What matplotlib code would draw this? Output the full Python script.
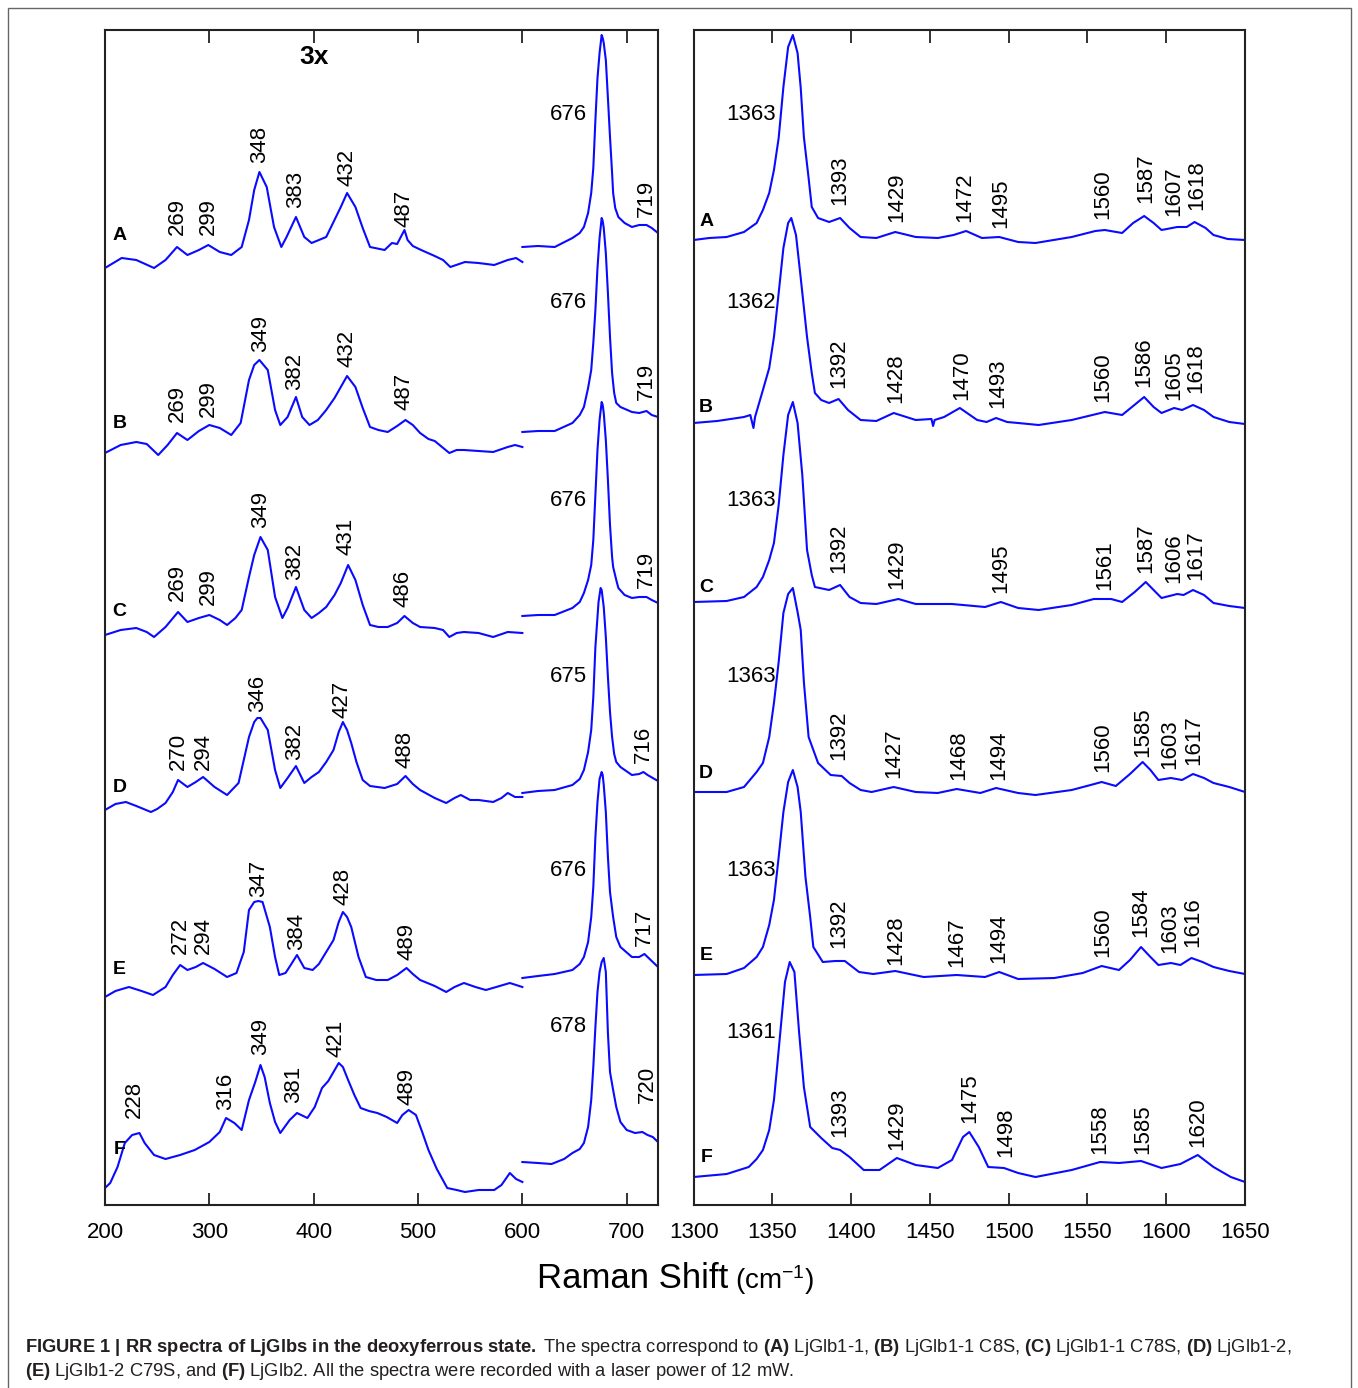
import matplotlib
matplotlib.use("Agg")
import matplotlib.pyplot as plt
from matplotlib.patches import Rectangle

# ─── CONFIG ────────────────────────────────────────────────────────────────
W, H = 1358, 1388
BLUE = "#0a0aff"
plt.rcParams['font.family'] = ['Liberation Sans', 'DejaVu Sans']
plt.rcParams['mathtext.fontset'] = 'custom'
plt.rcParams['mathtext.rm'] = 'Liberation Sans'
plt.rcParams['mathtext.bf'] = 'Liberation Sans:bold'
plt.rcParams['mathtext.it'] = 'Liberation Sans:italic'
# ────────────────────────────────────────────────────────────────────────────

LETTERS = ['A', 'B', 'C', 'D', 'E', 'F']
OFFSETS = [937, 752, 570, 393, 208, 18]   # baseline of each stacked trace

# spectra as (wavenumber, intensity above trace baseline)
# 200-600 region (shown 3x)
A_LOW = [(200,0),(216,10),(230,8),(247,0),(258,8),(269,21),(279,13),(290,18),(299,23),(310,16),(321,13),
         (331,21),(338,48),(343,78),(348,96),(355,81),(362,41),(369,21),(374,31),(383,51),(391,31),(398,25),
         (412,31),(426,61),(432,75),(440,61),(447,40),(454,21),(468,18),(475,25),(480,24),(487,38),(490,28),
         (495,22),(503,18),(516,12),(524,8),(531,1),(545,6),(558,5),(573,3),(586,8),(594,10),(600,6)]
B_LOW = [(200,0),(215,8),(230,11),(240,9),(251,-2),(260,8),(269,20),(279,13),(290,22),(300,28),(310,25),
         (321,18),(330,30),(338,73),(343,88),(348,93),(356,83),(363,43),(368,28),(375,36),(383,56),(389,36),
         (396,28),(404,33),(412,43),(420,55),(426,66),(432,77),(440,66),(447,45),(454,26),(462,23),(471,21),
         (480,27),(488,33),(495,28),(502,20),(510,14),(516,12),(523,6),(530,0),(537,3),(544,3),(558,2),
         (572,1),(586,6),(593,8),(600,6)]
C_LOW = [(200,0),(215,5),(230,7),(240,3),(247,-2),(258,8),(270,23),(279,13),(290,17),(300,20),(310,15),
         (317,10),(325,17),(331,25),(338,58),(343,80),(349,98),(356,85),(363,38),(370,17),(375,27),(383,48),
         (391,25),(398,17),(405,22),(412,28),(420,40),(426,52),(433,70),(440,55),(447,30),(454,10),(462,8),
         (471,8),(480,12),(487,19),(495,12),(502,8),(516,7),(524,5),(530,-2),(537,2),(544,3),(558,2),
         (572,-2),(586,3),(600,2)]
D_LOW = [(200,2),(210,8),(220,10),(230,6),(244,0),(250,3),(258,9),(265,20),(270,32),(279,25),(287,30),
         (294,35),(305,25),(317,17),(328,29),(338,75),(343,90),(346,94),(349,94),(356,82),(363,42),(368,24),
         (375,34),(383,46),(391,29),(398,35),(405,40),(412,50),(419,62),(424,80),(428,90),(432,82),(436,69),
         (441,50),(447,32),(454,26),(468,24),(480,28),(488,36),(495,28),(502,22),(516,14),(527,9),(535,14),
         (541,17),(550,12),(558,12),(572,10),(580,14),(586,19),(593,15),(600,15)]
E_LOW = [(200,0),(210,6),(223,10),(235,6),(246,2),(258,10),(265,22),(272,32),(279,27),(287,30),(294,34),
         (305,28),(317,20),(326,24),(333,45),(338,87),(343,95),(347,96),(351,95),(358,70),(363,40),(367,22),
         (373,24),(378,32),(384,42),(391,29),(399,27),(405,33),(412,45),(419,57),(424,75),(428,85),(432,80),
         (436,70),(443,40),(450,20),(460,17),(471,17),(480,22),(489,29),(495,23),(502,17),(516,11),(527,5),
         (535,10),(544,14),(555,10),(565,7),(575,10),(588,14),(600,10)]
F_LOW = [(200,-1),(205,4),(212,20),(219,44),(226,52),(233,54),(238,44),(247,32),(258,28),(272,32),(286,37),
         (300,45),(310,55),(316,69),(324,64),(331,57),(338,87),(344,105),(349,122),(353,110),(358,84),
         (363,65),(368,54),(377,67),(384,74),(394,69),(401,80),(408,99),(414,106),(419,115),(424,124),
         (428,120),(433,107),(439,92),(445,79),(453,76),(461,74),(470,70),(480,64),(485,72),(491,77),(498,72),
         (504,55),(510,37),(518,18),(528,-1),(537,-3),(545,-5),(558,-3),(573,-3),(580,2),(588,14),(594,8),
         (600,5)]

# 600-730 region
A_HIGH = [(600,21),(615,22),(631,21),(648,30),(655,35),(659,41),(663,55),(666,75),(668,100),(670,148),
          (672,190),(674,215),(676,233),(677,230),(678,225),(680,208),(682,170),(684,131),(686,95),(687,75),
          (689,60),(692,51),(698,45),(705,41),(712,43),(719,43),(724,40),(730,35)]
B_HIGH = [(600,21),(615,22),(631,22),(648,30),(655,38),(659,46),(663,65),(666,83),(668,110),(670,143),
          (672,185),(674,215),(676,235),(677,232),(678,225),(680,200),(682,160),(684,116),(686,80),(688,60),
          (690,50),(694,46),(705,41),(712,40),(719,42),(724,38),(730,36)]
C_HIGH = [(600,19),(615,20),(631,20),(648,27),(655,33),(659,42),(663,55),(666,70),(668,95),(670,140),
          (672,185),(674,215),(676,233),(677,230),(678,222),(680,195),(682,155),(684,110),(686,78),(687,68),
          (690,55),(692,47),(698,40),(705,37),(712,38),(719,38),(724,35),(730,32)]
D_HIGH = [(600,19),(615,21),(631,22),(648,27),(655,33),(659,42),(663,60),(666,82),(668,115),(670,165),
          (672,195),(673,210),(675,224),(676,222),(678,205),(680,175),(682,135),(684,100),(686,75),(688,58),
          (690,50),(694,45),(705,37),(712,38),(716,40),(720,37),(730,31)]
E_HIGH = [(600,19),(615,21),(631,23),(648,27),(655,33),(659,40),(663,55),(666,80),(668,110),(670,160),
          (672,195),(674,218),(676,225),(677,222),(678,212),(680,185),(682,140),(684,105),(687,80),(690,60),
          (694,50),(705,40),(712,40),(717,43),(722,38),(730,30)]
F_HIGH = [(600,25),(615,24),(628,23),(640,28),(648,34),(655,38),(659,44),(663,60),(666,87),(668,120),
          (670,160),(672,195),(674,215),(676,225),(678,229),(680,215),(682,154),(684,115),(687,97),(690,80),
          (694,65),(700,57),(708,54),(715,55),(720,52),(725,50),(730,45)]

# 1300-1650 region
A_RIGHT = [(1300,28),(1310,30),(1321,31),(1332,36),(1340,45),(1344,58),(1348,75),(1351,98),(1354,130),
           (1357,181),(1360,221),(1363,233),(1366,215),(1368,180),(1370,131),(1373,90),(1375,61),(1379,50),
           (1386,46),(1393,50),(1399,40),(1406,31),(1416,30),(1428,36),(1441,31),(1455,30),(1465,33),
           (1473,37),(1483,30),(1494,31),(1506,26),(1517,25),(1540,31),(1555,37),(1561,38),(1572,35),
           (1579,45),(1586,52),(1592,45),(1597,38),(1607,41),(1613,41),(1618,46),(1625,40),(1630,33),
           (1639,29),(1650,28)]
B_RIGHT = [(1300,30),(1315,32),(1332,36),(1336,38),(1338,25),(1339,36),(1344,63),(1348,85),(1351,116),
           (1354,160),(1357,205),(1360,230),(1362,235),(1365,218),(1368,175),(1372,116),(1375,80),(1377,60),
           (1381,53),(1386,50),(1392,54),(1398,43),(1406,33),(1416,32),(1427,40),(1441,33),(1451,34),
           (1452,27),(1453,33),(1459,36),(1469,45),(1480,33),(1486,31),(1492,35),(1499,31),(1506,30),
           (1519,28),(1540,33),(1561,41),(1572,38),(1579,47),(1586,56),(1592,46),(1597,40),(1605,45),
           (1610,43),(1617,48),(1624,43),(1630,36),(1640,31),(1650,29)]
C_RIGHT = [(1300,33),(1321,34),(1332,38),(1340,48),(1344,58),(1348,75),(1351,92),(1354,130),(1357,180),
           (1360,220),(1363,233),(1366,212),(1369,160),(1372,85),(1375,60),(1377,48),(1386,45),(1393,50),
           (1399,38),(1406,32),(1416,31),(1430,36),(1441,31),(1464,31),(1485,28),(1495,33),(1506,27),
           (1519,25),(1540,30),(1554,36),(1565,36),(1572,33),(1580,43),(1587,53),(1592,45),(1597,37),
           (1607,41),(1611,40),(1617,45),(1624,40),(1630,32),(1640,29),(1650,27)]
D_RIGHT = [(1300,20),(1321,20),(1332,25),(1340,40),(1344,49),(1348,75),(1351,109),(1354,150),(1357,199),
           (1360,218),(1363,224),(1366,200),(1368,182),(1370,130),(1373,75),(1379,49),(1387,37),(1394,36),
           (1399,29),(1406,22),(1413,20),(1427,25),(1441,20),(1455,19),(1467,23),(1482,19),(1492,24),
           (1506,19),(1517,17),(1540,22),(1552,27),(1559,30),(1568,26),(1577,38),(1585,50),(1590,42),
           (1595,32),(1603,34),(1610,32),(1617,38),(1624,34),(1630,29),(1640,25),(1650,20)]
E_RIGHT = [(1300,22),(1321,23),(1332,29),(1340,40),(1344,50),(1348,72),(1351,97),(1354,140),(1357,185),
           (1360,215),(1363,227),(1366,210),(1368,185),(1371,120),(1374,80),(1376,50),(1382,35),(1390,36),
           (1396,36),(1405,25),(1414,23),(1428,26),(1446,20),(1467,22),(1485,20),(1494,25),(1506,18),
           (1529,19),(1547,24),(1559,31),(1570,27),(1577,37),(1584,50),(1590,40),(1595,32),(1603,34),
           (1609,32),(1616,39),(1623,35),(1630,30),(1640,26),(1650,23)]
F_RIGHT = [(1300,10),(1321,13),(1335,20),(1340,28),(1344,37),(1348,57),(1351,87),(1353,120),(1355,154),
           (1358,205),(1361,225),(1364,215),(1367,154),(1370,100),(1374,60),(1381,49),(1388,39),(1393,37),
           (1399,30),(1408,17),(1418,17),(1429,29),(1441,22),(1455,19),(1464,27),(1471,50),(1475,55),
           (1481,40),(1487,20),(1497,19),(1506,14),(1517,10),(1540,17),(1558,25),(1570,24),(1584,26),
           (1597,19),(1609,23),(1620,32),(1630,20),(1641,10),(1650,5)]

# peak labels: (text, height of label foot above trace baseline[, x if nudged])
A_LEFT_LABELS = [("269",33),("299",33),("348",105),("383",60),("432",82),("487",41),("719",51)]
B_LEFT_LABELS = [("269",31),("299",36),("349",101),("382",63),("432",86),("487",43),("719",53)]
C_LEFT_LABELS = [("269",34),("299",30),("349",107),("382",55),("431",80),("486",28),("719",47)]
D_LEFT_LABELS = [("270",42),("294",42),("346",100),("382",52),("427",94),("488",44),("716",49)]
E_LEFT_LABELS = [("272",43),("294",43),("347",100),("384",47),("428",92),("489",37),("717",51)]
F_LEFT_LABELS = [("228",69),("316",77),("349",132),("381",84),("421",130),("489",82),("720",84)]

A_RIGHT_LABELS = [("1393",63),("1429",46),("1472",46),("1495",40),("1560",49),("1587",65),
                  ("1607",52,1604.5),("1618",58,1619.5)]
B_RIGHT_LABELS = [("1392",65),("1428",50),("1470",53),("1493",45),("1560",51),("1586",66),
                  ("1605",53,1604.5),("1618",60,1619)]
C_RIGHT_LABELS = [("1392",62),("1429",46),("1495",42),("1561",45),("1587",62),
                  ("1606",52,1604.5),("1617",55,1618.5)]
D_RIGHT_LABELS = [("1392",52),("1427",34),("1468",32),("1494",32),("1560",40),("1585",55),
                  ("1603",43,1602.5),("1617",47,1617.5)]
E_RIGHT_LABELS = [("1392",49),("1428",32),("1467",30),("1494",34),("1560",40),("1584",60),
                  ("1603",44,1602),("1616",50,1617)]
F_RIGHT_LABELS = [("1393",50),("1429",37),("1475",64),("1498",30),("1558",33),("1585",33),("1620",40)]

# strong band labels written horizontally: (text, height of label centre above baseline)
LEFT_MAIN = [("676",153),("676",150),("676",135),("675",135),("676",126),("678",160)]
RIGHT_MAIN = [("1363",153),("1362",150),("1363",135),("1363",135),("1363",126),("1361",154)]

LETTER_Y_LEFT = [32, 29, 23, 25, 27, 37]
LETTER_Y_RIGHT = [46, 45, 48, 39, 42, 29]

LEFT_TICKS = [200, 300, 400, 500, 600, 700]
RIGHT_TICKS = [1300, 1350, 1400, 1450, 1500, 1550, 1600, 1650]

LOW = dict(zip(LETTERS, [A_LOW, B_LOW, C_LOW, D_LOW, E_LOW, F_LOW]))
HIGH = dict(zip(LETTERS, [A_HIGH, B_HIGH, C_HIGH, D_HIGH, E_HIGH, F_HIGH]))
RIGHT = dict(zip(LETTERS, [A_RIGHT, B_RIGHT, C_RIGHT, D_RIGHT, E_RIGHT, F_RIGHT]))
LEFT_LABELS = dict(zip(LETTERS, [A_LEFT_LABELS, B_LEFT_LABELS, C_LEFT_LABELS,
                                 D_LEFT_LABELS, E_LEFT_LABELS, F_LEFT_LABELS]))
RIGHT_LABELS = dict(zip(LETTERS, [A_RIGHT_LABELS, B_RIGHT_LABELS, C_RIGHT_LABELS,
                                  D_RIGHT_LABELS, E_RIGHT_LABELS, F_RIGHT_LABELS]))

# Figure and axes
fig = plt.figure(figsize=(W / 100, H / 100), dpi=100)
bottom = 1 - 1205 / H
height = (1205 - 30) / H
ax1 = fig.add_axes([105 / W, bottom, (658 - 105) / W, height])
ax2 = fig.add_axes([693.6 / W, bottom, (1245 - 693.6) / W, height])


def draw(ax, seg, off):
    xs = [p[0] for p in seg]
    ys = [off + p[1] for p in seg]
    ax.plot(xs, ys, color=BLUE, lw=1.5, solid_joinstyle='round')


def peak_labels(ax, labels, off):
    for lab in labels:
        txt, dy = lab[0], lab[1]
        x = lab[2] if len(lab) > 2 else float(txt)
        ax.text(x, off + dy, txt, rotation=90, ha='center', va='bottom', fontsize=16)


for i, (k, off) in enumerate(zip(LETTERS, OFFSETS)):
    draw(ax1, LOW[k], off)
    draw(ax1, HIGH[k], off)
    draw(ax2, RIGHT[k], off)

    peak_labels(ax1, LEFT_LABELS[k], off)
    peak_labels(ax2, RIGHT_LABELS[k], off)

    ax1.text(662, off + LEFT_MAIN[i][1], LEFT_MAIN[i][0], ha='right', va='center', fontsize=16)
    ax2.text(1352, off + RIGHT_MAIN[i][1], RIGHT_MAIN[i][0], ha='right', va='center', fontsize=16)

    ax1.text(214, off + LETTER_Y_LEFT[i], k, ha='center', va='center', fontsize=14, fontweight='bold')
    ax2.text(1308, off + LETTER_Y_RIGHT[i], k, ha='center', va='center', fontsize=14, fontweight='bold')

ax1.text(400, 1148, "3x", ha='center', va='center', fontsize=19, fontweight='bold')

for ax, lim, ticks in [(ax1, (200, 730), LEFT_TICKS), (ax2, (1300, 1650), RIGHT_TICKS)]:
    ax.set_xlim(*lim)
    ax.set_ylim(0, 1175)
    ax.set_xticks(ticks)
    ax.set_yticks([])
    ax.tick_params(axis='x', direction='in', top=True, length=9, width=1.3,
                   labelsize=16, pad=12, color='#222222')
    for sp in ax.spines.values():
        sp.set_linewidth(1.5)
        sp.set_color('#222222')

# axis title
fig.text(728 / W, 1 - 1278 / H, "Raman Shift", ha='right', va='center', fontsize=25)
fig.text(735 / W, 1 - 1280 / H, r"(cm$^{-1}$)", ha='left', va='center', fontsize=20)

# caption + frame
fig.patches.append(Rectangle((8 / W, -0.02), (1351 - 8) / W, 1.02 - 8 / H,
                             transform=fig.transFigure, fill=False,
                             edgecolor='#666666', lw=1.0))
cap1 = (r"$\mathbf{FIGURE\ 1\ |\ RR\ spectra\ of\ LjGlbs\ in\ the\ deoxyferrous\ state.}$"
        r" The spectra correspond to $\mathbf{(A)}$ LjGlb1-1, $\mathbf{(B)}$ LjGlb1-1 C8S,"
        r" $\mathbf{(C)}$ LjGlb1-1 C78S, $\mathbf{(D)}$ LjGlb1-2,")
cap2 = (r"$\mathbf{(E)}$ LjGlb1-2 C79S, and $\mathbf{(F)}$ LjGlb2."
        r" All the spectra were recorded with a laser power of 12 mW.")
fig.text(25 / W, 1 - 1347 / H, cap1, ha='left', va='center', fontsize=13.2, color='#231f20')
fig.text(25 / W, 1 - 1372 / H, cap2, ha='left', va='center', fontsize=13.2, color='#231f20')

fig.savefig("out.png", dpi=100)
